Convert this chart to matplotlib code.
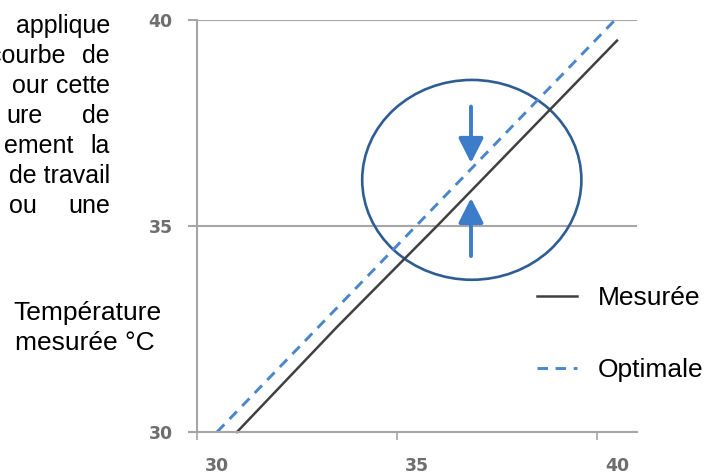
import matplotlib
matplotlib.use("Agg")
import matplotlib.pyplot as plt
from matplotlib.patches import Ellipse
from matplotlib.transforms import ScaledTranslation

W, H = 719, 476

# données
mesuree_x = [31.0, 33.5, 36.0, 38.5, 40.5]
mesuree_y = [30.0, 32.55, 35.0, 37.5, 39.5]
optimale_x = [30.5, 40.45]
optimale_y = [30.0, 40.0]
ticks = [30, 35, 40]
tick_labels = ["30", "35", "40"]
legende = ["Mesurée", "Optimale"]

# zone d'écart entourée + flèches
cercle_centre = (36.87, 36.12)
cercle_taille = (5.48, 4.85)
fleche_x = 36.85
fleche_bas = (37.9, 36.53)
fleche_haut = (34.27, 35.68)

# texte coupé à gauche (paragraphe justifié)
lignes_gauche = [
    ("", None, "applique"),
    ("courbe", 65, "de"),
    ("our", 48, "cette"),
    ("ure", 43, "de"),
    ("ement", 73, "la"),
    ("", None, "de travail"),
    ("ou", 37, "une"),
]

GRIS_AXE = "#a6a6a6"
GRIS_TXT = "#6e6e6e"
NOIR = "#404040"
BLEU_TIRET = "#4a87c9"
BLEU_CERCLE = "#2e5d94"
BLEU_FLECHE = "#3d7cc9"

plt.rcParams["font.family"] = ["Liberation Sans", "DejaVu Sans"]


def px(x, y):
    return x / W, 1 - y / H


def main() -> None:
    fig = plt.figure(figsize=(W / 100, H / 100), dpi=100)
    ax = fig.add_axes([197 / W, 44 / H, 440 / W, 412 / H])

    ax.plot(mesuree_x, mesuree_y, color=NOIR, lw=1.8, label=legende[0], clip_on=False)
    ax.plot(optimale_x, optimale_y, color=BLEU_TIRET, lw=2.1, ls=(0, (3.6, 2.6)),
            label=legende[1], clip_on=False)

    ax.add_patch(Ellipse(cercle_centre, cercle_taille[0], cercle_taille[1],
                         fill=False, edgecolor=BLEU_CERCLE, lw=1.9))
    style = dict(arrowstyle="-|>,head_length=0.75,head_width=0.38", lw=2.8,
                 color=BLEU_FLECHE, shrinkA=0, shrinkB=0, mutation_scale=20)
    ax.annotate("", xy=(fleche_x, fleche_bas[1]), xytext=(fleche_x, fleche_bas[0]),
                arrowprops=style)
    ax.annotate("", xy=(fleche_x, fleche_haut[1]), xytext=(fleche_x, fleche_haut[0]),
                arrowprops=style)

    ax.set_xlim(30, 41)
    ax.set_ylim(30, 40)
    ax.set_xticks(ticks)
    ax.set_xticklabels(tick_labels)
    ax.set_yticks(ticks)
    ax.set_yticklabels(tick_labels)

    for s in ["top", "right"]:
        ax.spines[s].set_visible(False)
    for s in ["left", "bottom"]:
        ax.spines[s].set_color(GRIS_AXE)
        ax.spines[s].set_linewidth(1.5)
    ax.yaxis.grid(True, color=GRIS_AXE, lw=1.5)
    ax.set_axisbelow(True)

    ax.tick_params(axis="x", direction="out", length=5.8, width=1.2, color=GRIS_AXE,
                   pad=12.5, labelsize=12.5, labelcolor=GRIS_TXT)
    ax.tick_params(axis="y", direction="out", length=6.5, width=1.5, color=GRIS_AXE,
                   pad=11, labelsize=12.5, labelcolor=GRIS_TXT)
    for lab in ax.get_xticklabels() + ax.get_yticklabels():
        lab.set_fontfamily("DejaVu Sans")
        lab.set_fontweight("bold")
    decal = ScaledTranslation(0.2, 0, fig.dpi_scale_trans)
    for lab in ax.get_xticklabels():
        lab.set_transform(lab.get_transform() + decal)

    ax.legend(loc="center left", bbox_to_anchor=px(537, 334), bbox_transform=fig.transFigure,
              frameon=False, fontsize=19, handlelength=1.52, handletextpad=0.8,
              labelspacing=1.8, borderpad=0, borderaxespad=0)

    # texte du paragraphe
    for i, (debut, x_fin, fin) in enumerate(lignes_gauche):
        y = 33 + 30 * i
        if debut:
            fig.text(*px(x_fin, y), debut, ha="right", va="baseline", fontsize=18)
        fig.text(*px(110, y), fin, ha="right", va="baseline", fontsize=18)

    fig.text(*px(13, 320), "Température", ha="left", va="baseline", fontsize=19)
    fig.text(*px(15, 350), "mesurée °C", ha="left", va="baseline", fontsize=19)

    fig.savefig("out.png", dpi=100)
    plt.close(fig)


if __name__ == "__main__":
    main()
